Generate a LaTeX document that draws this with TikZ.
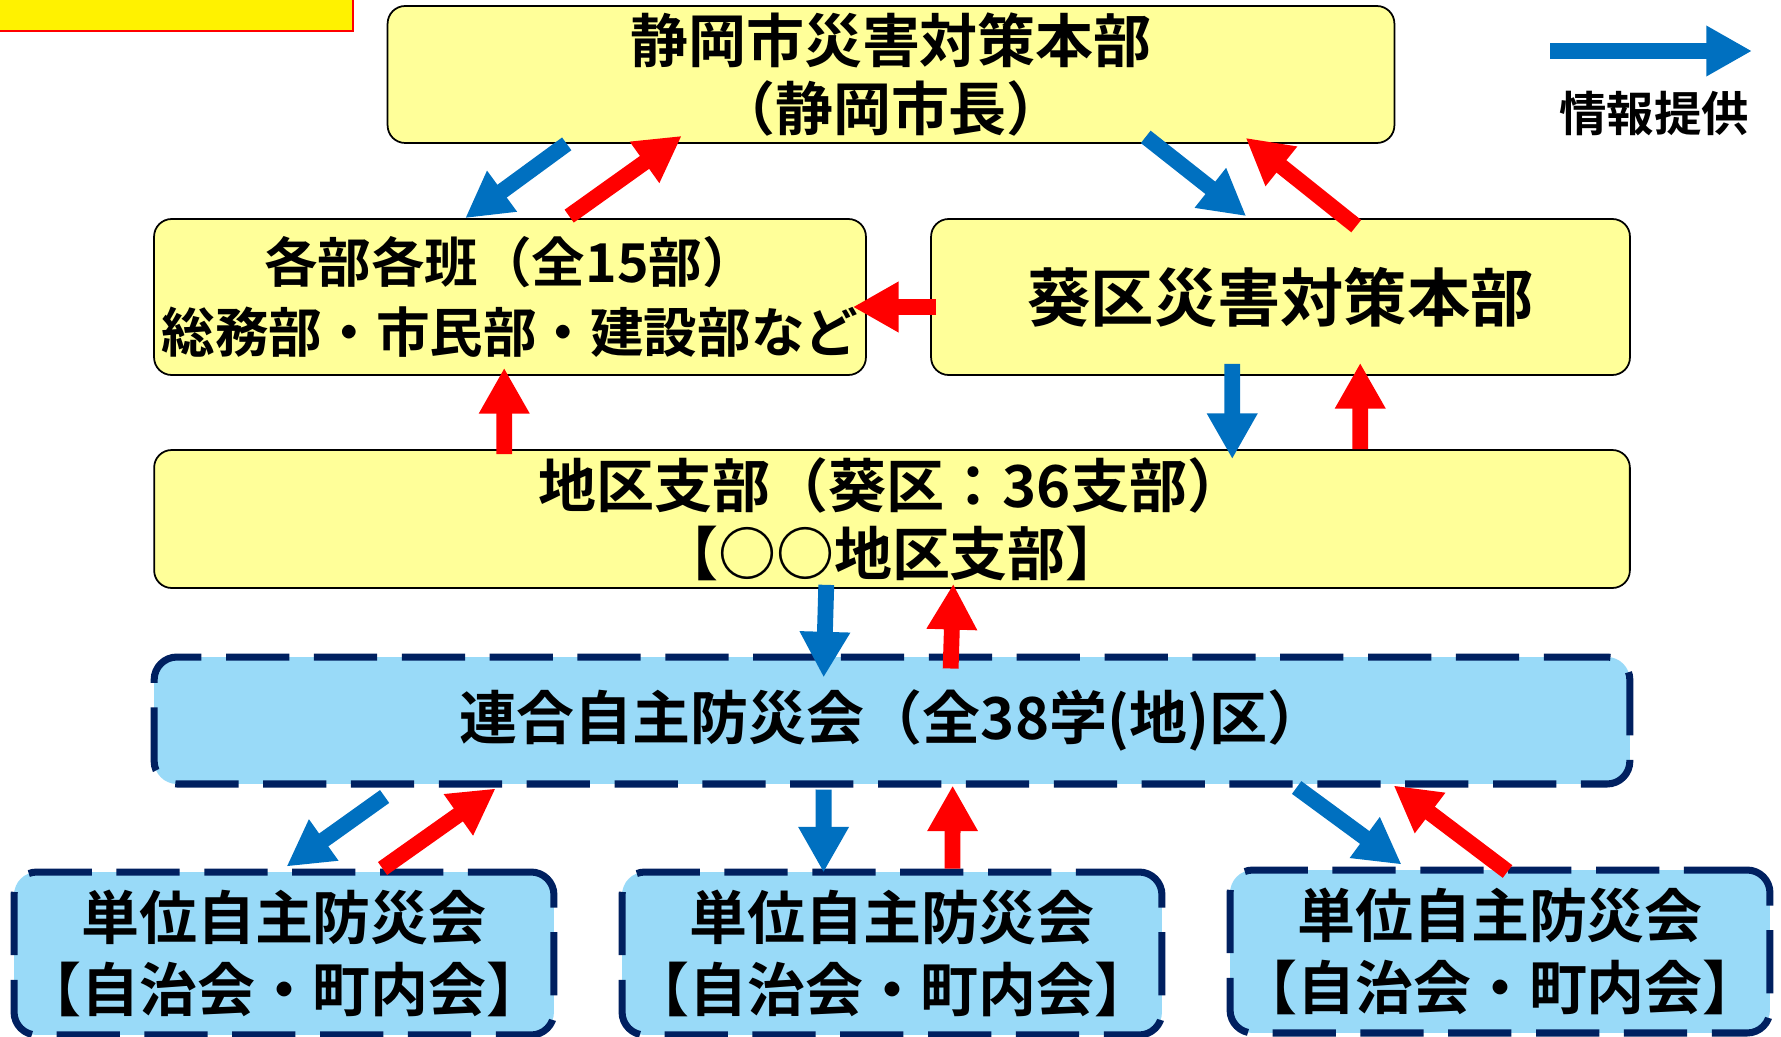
\documentclass[tikz,border=0pt]{standalone}
\usepackage{fontspec}
\setmainfont{Noto Sans CJK JP Bold}
\usetikzlibrary{positioning,arrows.meta,calc}
\definecolor{hqyellow}{HTML}{FFFF99}
\definecolor{jishublue}{HTML}{99DAF8}
\definecolor{jishunavy}{HTML}{002060}
\definecolor{infoblue}{HTML}{0070C0}
\tikzset{
  hq/.style={draw=black, line width=1pt, fill=hqyellow, rounded corners=10pt, align=center, inner sep=0pt, font=\fontsize{33pt}{39pt}\selectfont},
  jishu/.style={draw=jishunavy, line width=4pt, dash pattern=on 36pt off 14pt, fill=jishublue, rounded corners=13pt, align=center, inner sep=0pt, font=\fontsize{33pt}{41pt}\selectfont},
  info/.style={-{Triangle[width=27pt,length=26pt]}, line width=9pt, draw=infoblue},
  report/.style={info, draw=red}
}

\begin{document}
\begin{tikzpicture}[x=0.02cm,y=-0.02cm]
\useasboundingbox (0,0) rectangle (1781,1037);
\fill[yellow, draw=red, line width=1pt] (-20,-60) rectangle (353,31);
\node[hq, minimum width=20.14cm, minimum height=2.74cm] at (891,74.5) (honbu) {静岡市災害対策本部\\（静岡市長）};
\node[hq, minimum width=14.24cm, minimum height=3.12cm, font=\fontsize{30.5pt}{40pt}\selectfont] at (510,297) (kakubu) {各部各班（全15部）\\総務部・市民部・建設部など};
\node[hq, minimum width=13.98cm, minimum height=3.12cm, font=\fontsize{36pt}{40pt}\selectfont] at (1280.5,297) (aoi) {葵区災害対策本部};
\node[hq, minimum width=29.52cm, minimum height=2.76cm] at (892,519) (shibu) {地区支部（葵区：36支部）\\【○○地区支部】};
\node[jishu, minimum width=29.52cm, minimum height=2.54cm] at (892,720.5) (rengo) {連合自主防災会（全38学(地)区）};
\node[jishu, minimum width=10.8cm, minimum height=3.26cm] at (284,953.5) (tani1) {単位自主防災会\\【自治会・町内会】};
\node[jishu, minimum width=10.8cm, minimum height=3.26cm] at (892,953.5) (tani2) {単位自主防災会\\【自治会・町内会】};
\node[jishu, minimum width=10.8cm, minimum height=3.26cm] at (1500,951.5) (tani3) {単位自主防災会\\【自治会・町内会】};
\coordinate (legstart) at (1550,51);
\coordinate (legend) at (1752,51);
\node[font=\fontsize{27pt}{30pt}\selectfont] at (1654,114) (legtext) {情報提供};
\draw[info] (legstart) -- (legend);
\draw[info] ($(honbu.south west)+(180,0)$) -- ($(kakubu.north west)+(312,0)$);
\draw[report] ($(kakubu.north west)+(416,-2)$) -- ($(honbu.south west)+(295,-8)$);
\draw[info] ($(honbu.south west)+(759,-7)$) -- ($(aoi.north west)+(316,-2)$);
\draw[report] ($(aoi.north west)+(426,8)$) -- ($(honbu.south west)+(859,-6)$);
\draw[report] ($(aoi.west)+(6,10)$) -- ($(kakubu.east)+(-14,10)$);
\draw[report] ($(shibu.north west)+(351,5)$) -- ($(kakubu.south west)+(351,-8)$);
\draw[info] ($(aoi.south west)+(302,-12)$) -- ($(shibu.north west)+(1079,10)$);
\draw[report] ($(shibu.north west)+(1207,0)$) -- ($(aoi.south west)+(430,-13)$);
\draw[info] ($(shibu.south west)+(673,-4)$) -- ($(rengo.north west)+(673,24)$);
\draw[report] ($(rengo.north west)+(800,15)$) -- ($(shibu.south west)+(800,-5)$);
\draw[info] ($(rengo.south west)+(234,9)$) -- ($(tani1.north west)+(276,-2)$);
\draw[report] ($(tani1.north west)+(372,0)$) -- ($(rengo.south west)+(345,1)$);
\draw[info] ($(rengo.south west)+(673,2)$) -- ($(tani2.north west)+(205,4)$);
\draw[report] ($(tani2.north west)+(334,0)$) -- ($(rengo.south west)+(802,-2)$);
\draw[info] ($(rengo.south west)+(1146,0)$) -- ($(tani3.north west)+(175,-2)$);
\draw[report] ($(tani3.north west)+(281,5)$) -- ($(rengo.south west)+(1243,-2)$);
\end{tikzpicture}
\end{document}
